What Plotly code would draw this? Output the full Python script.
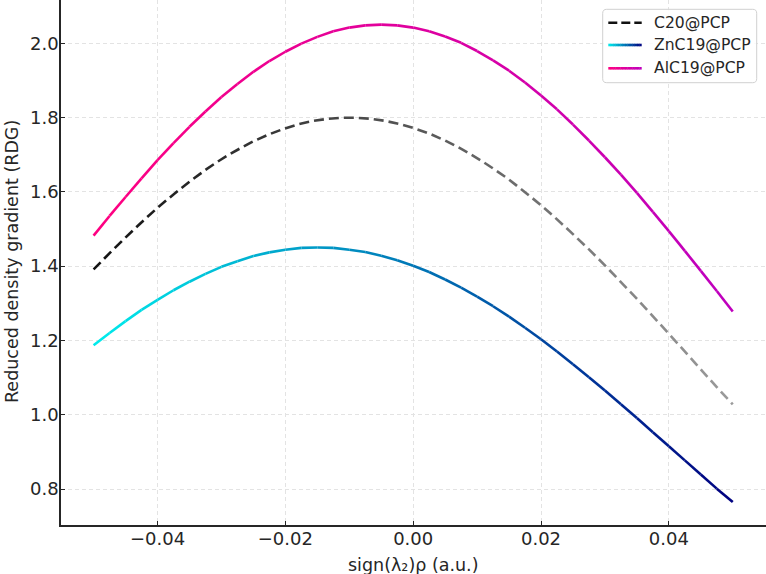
import math
import numpy as np
import plotly.graph_objects as go

# ---------------- data ----------------
x = [-0.05, -0.0475, -0.045, -0.0425, -0.04, -0.0375, -0.035, -0.0325, -0.03, -0.0275,
     -0.025, -0.0225, -0.02, -0.0175, -0.015, -0.0125, -0.01, -0.0075, -0.005, -0.0025,
     0.0, 0.0025, 0.005, 0.0075, 0.01, 0.0125, 0.015, 0.0175, 0.02, 0.0225,
     0.025, 0.0275, 0.03, 0.0325, 0.035, 0.0375, 0.04, 0.0425, 0.045, 0.0475, 0.05]

c20 = [1.391, 1.435, 1.477, 1.518, 1.557, 1.593, 1.627, 1.659, 1.688, 1.713,
       1.736, 1.755, 1.771, 1.784, 1.793, 1.798, 1.800, 1.798, 1.793, 1.784,
       1.772, 1.757, 1.738, 1.716, 1.691, 1.663, 1.633, 1.599, 1.564, 1.526,
       1.486, 1.445, 1.402, 1.357, 1.312, 1.265, 1.218, 1.170, 1.122, 1.074, 1.028]

znc19 = [1.187, 1.220, 1.252, 1.282, 1.309, 1.335, 1.358, 1.379, 1.398, 1.413,
         1.427, 1.437, 1.444, 1.449, 1.450, 1.449, 1.444, 1.438, 1.428, 1.416,
         1.401, 1.384, 1.364, 1.342, 1.318, 1.292, 1.264, 1.234, 1.203, 1.170,
         1.136, 1.101, 1.065, 1.028, 0.991, 0.953, 0.915, 0.877, 0.839, 0.801, 0.765]

alc19 = [1.482, 1.535, 1.586, 1.636, 1.685, 1.731, 1.775, 1.816, 1.855, 1.890,
         1.923, 1.952, 1.977, 1.999, 2.017, 2.032, 2.042, 2.048, 2.050, 2.048,
         2.042, 2.032, 2.018, 2.001, 1.979, 1.954, 1.926, 1.894, 1.859, 1.822,
         1.781, 1.738, 1.693, 1.646, 1.597, 1.546, 1.494, 1.441, 1.387, 1.333, 1.278]

series_names = ["C20@PCP", "ZnC19@PCP", "AlC19@PCP"]
xtick_vals = [-0.04, -0.02, 0.0, 0.02, 0.04]
xtick_text = ["\u22120.04", "\u22120.02", "0.00", "0.02", "0.04"]
ytick_vals = [0.8, 1.0, 1.2, 1.4, 1.6, 1.8, 2.0]
ytick_text = ["0.8", "1.0", "1.2", "1.4", "1.6", "1.8", "2.0"]

# ---------------- styling ----------------
FIG_W, FIG_H = 766, 574
ML, MR, MT, MB = 61, 0, 0, 49
W = FIG_W - ML - MR
H = FIG_H - MT - MB
XR = [-0.0551, 0.0552]
YR = [0.7031, 2.1163]
FONT = "DejaVu Sans"
TXT = "#262626"
LW = 2.6

grad = {
    "C20@PCP": ((17, 17, 17), (155, 155, 155)),
    "ZnC19@PCP": ((0, 236, 236), (0, 0, 128)),
    "AlC19@PCP": ((255, 0, 128), (190, 0, 190)),
}


def lerp(c0, c1, t):
    t = min(max(t, 0.0), 1.0)
    return "rgb(%d,%d,%d)" % tuple(round(a + (b - a) * t) for a, b in zip(c0, c1))


def tpos(xv):
    return (xv - x[0]) / (x[-1] - x[0])


fig = go.Figure()


def add_solid(xs, ys, name):
    c0, c1 = grad[name]
    for i in range(len(xs) - 1):
        t = tpos(0.5 * (xs[i] + xs[i + 1]))
        fig.add_trace(go.Scatter(x=[xs[i], xs[i + 1]], y=[ys[i], ys[i + 1]], mode="lines",
                                 line=dict(color=lerp(c0, c1, t), width=LW),
                                 hoverinfo="skip", showlegend=False))


def add_dashed(xs, ys, name, on=10.0, off=5.0):
    c0, c1 = grad[name]
    px = [(v - XR[0]) / (XR[1] - XR[0]) * W for v in xs]
    py = [(v - YR[0]) / (YR[1] - YR[0]) * H for v in ys]
    pieces = []
    cur = [(xs[0], ys[0])]
    drawing = True
    remain = on
    for i in range(len(xs) - 1):
        seglen = math.hypot(px[i + 1] - px[i], py[i + 1] - py[i])
        pos = 0.0
        while seglen - pos > remain:
            pos += remain
            f = pos / seglen
            xm = xs[i] + f * (xs[i + 1] - xs[i])
            ym = ys[i] + f * (ys[i + 1] - ys[i])
            if drawing:
                cur.append((xm, ym))
                pieces.append(cur)
                cur = None
            else:
                cur = [(xm, ym)]
            drawing = not drawing
            remain = on if drawing else off
        remain -= (seglen - pos)
        if drawing:
            cur.append((xs[i + 1], ys[i + 1]))
    if drawing and cur and len(cur) > 1:
        pieces.append(cur)
    for p in pieces:
        pxs = [q[0] for q in p]
        pys = [q[1] for q in p]
        t = tpos(0.5 * (pxs[0] + pxs[-1]))
        fig.add_trace(go.Scatter(x=pxs, y=pys, mode="lines",
                                 line=dict(color=lerp(c0, c1, t), width=LW),
                                 hoverinfo="skip", showlegend=False))


add_dashed(x, c20, "C20@PCP")
add_solid(x, znc19, "ZnC19@PCP")
add_solid(x, alc19, "AlC19@PCP")

# ---------------- manual legend ----------------
def pxx(p):
    return (p - ML) / W


def pxy(p):
    return (FIG_H - MB - p) / H


shapes = []
bx0, bx1, by0, by1, r = 602.7, 756.7, 9.3, 82.7, 4
path = ("M %f,%f L %f,%f Q %f,%f %f,%f L %f,%f Q %f,%f %f,%f L %f,%f Q %f,%f %f,%f L %f,%f Q %f,%f %f,%f Z" % (
    pxx(bx0 + r), pxy(by0), pxx(bx1 - r), pxy(by0), pxx(bx1), pxy(by0), pxx(bx1), pxy(by0 + r),
    pxx(bx1), pxy(by1 - r), pxx(bx1), pxy(by1), pxx(bx1 - r), pxy(by1),
    pxx(bx0 + r), pxy(by1), pxx(bx0), pxy(by1), pxx(bx0), pxy(by1 - r),
    pxx(bx0), pxy(by0 + r), pxx(bx0), pxy(by0), pxx(bx0 + r), pxy(by0)))
shapes.append(dict(type="path", xref="paper", yref="paper", path=path,
                   fillcolor="rgba(255,255,255,0.85)", line=dict(color="#d0d0d0", width=1)))

rows_y = [22.7, 45.0, 68.3]
lx0, lx1 = 608.3, 641.7
annotations = []
for name, ry in zip(series_names, rows_y):
    c0, c1 = grad[name]
    if name == "C20@PCP":
        shapes.append(dict(type="line", xref="paper", yref="paper",
                           x0=pxx(lx0), x1=pxx(lx1), y0=pxy(ry), y1=pxy(ry),
                           line=dict(color="rgb(17,17,17)", width=LW, dash="9px,4px")))
    else:
        n = 14
        for k in range(n):
            a = lx0 + (lx1 - lx0) * k / n
            b = lx0 + (lx1 - lx0) * (k + 1) / n + 0.4
            shapes.append(dict(type="line", xref="paper", yref="paper",
                               x0=pxx(a), x1=pxx(min(b, lx1)), y0=pxy(ry), y1=pxy(ry),
                               line=dict(color=lerp(c0, c1, (k + 0.5) / n), width=LW)))
    annotations.append(dict(x=pxx(652.0), y=pxy(ry), xref="paper", yref="paper",
                            text=name, showarrow=False, xanchor="left", yanchor="middle",
                            font=dict(family=FONT, size=15.6, color=TXT)))

# axis titles
annotations.append(dict(x=pxx(413.0), y=pxy(565.0), xref="paper", yref="paper",
                        text="sign(\u03bb\u2082)\u03c1 (a.u.)", showarrow=False,
                        xanchor="center", yanchor="middle",
                        font=dict(family=FONT, size=17.5, color=TXT)))
annotations.append(dict(x=pxx(12.0), y=pxy(262.0), xref="paper", yref="paper",
                        text="Reduced density gradient (RDG)", showarrow=False, textangle=-90,
                        xanchor="center", yanchor="middle",
                        font=dict(family=FONT, size=17.5, color=TXT)))

fig.update_layout(
    width=FIG_W, height=FIG_H,
    margin=dict(l=ML, r=MR, t=MT, b=MB),
    plot_bgcolor="white", paper_bgcolor="white",
    showlegend=False,
    font=dict(family=FONT, color=TXT),
    shapes=shapes, annotations=annotations,
    xaxis=dict(range=XR, tickvals=xtick_vals, ticktext=xtick_text,
               ticks="inside", ticklen=4.5, tickwidth=1.2, tickcolor=TXT,
               showline=True, linecolor=TXT, linewidth=1.5, mirror=False,
               showgrid=True, gridcolor="#e3e3e3", gridwidth=1, griddash="4px,3px",
               zeroline=False, ticklabelstandoff=-3,
               tickfont=dict(family=FONT, size=18, color=TXT)),
    yaxis=dict(range=YR, tickvals=ytick_vals, ticktext=ytick_text,
               ticks="inside", ticklen=4.5, tickwidth=1.2, tickcolor=TXT,
               showline=True, linecolor=TXT, linewidth=1.5, mirror=False,
               showgrid=True, gridcolor="#e3e3e3", gridwidth=1, griddash="4px,3px",
               zeroline=False, ticklabelstandoff=-3,
               tickfont=dict(family=FONT, size=18, color=TXT)),
)

fig.write_html("out.html")
